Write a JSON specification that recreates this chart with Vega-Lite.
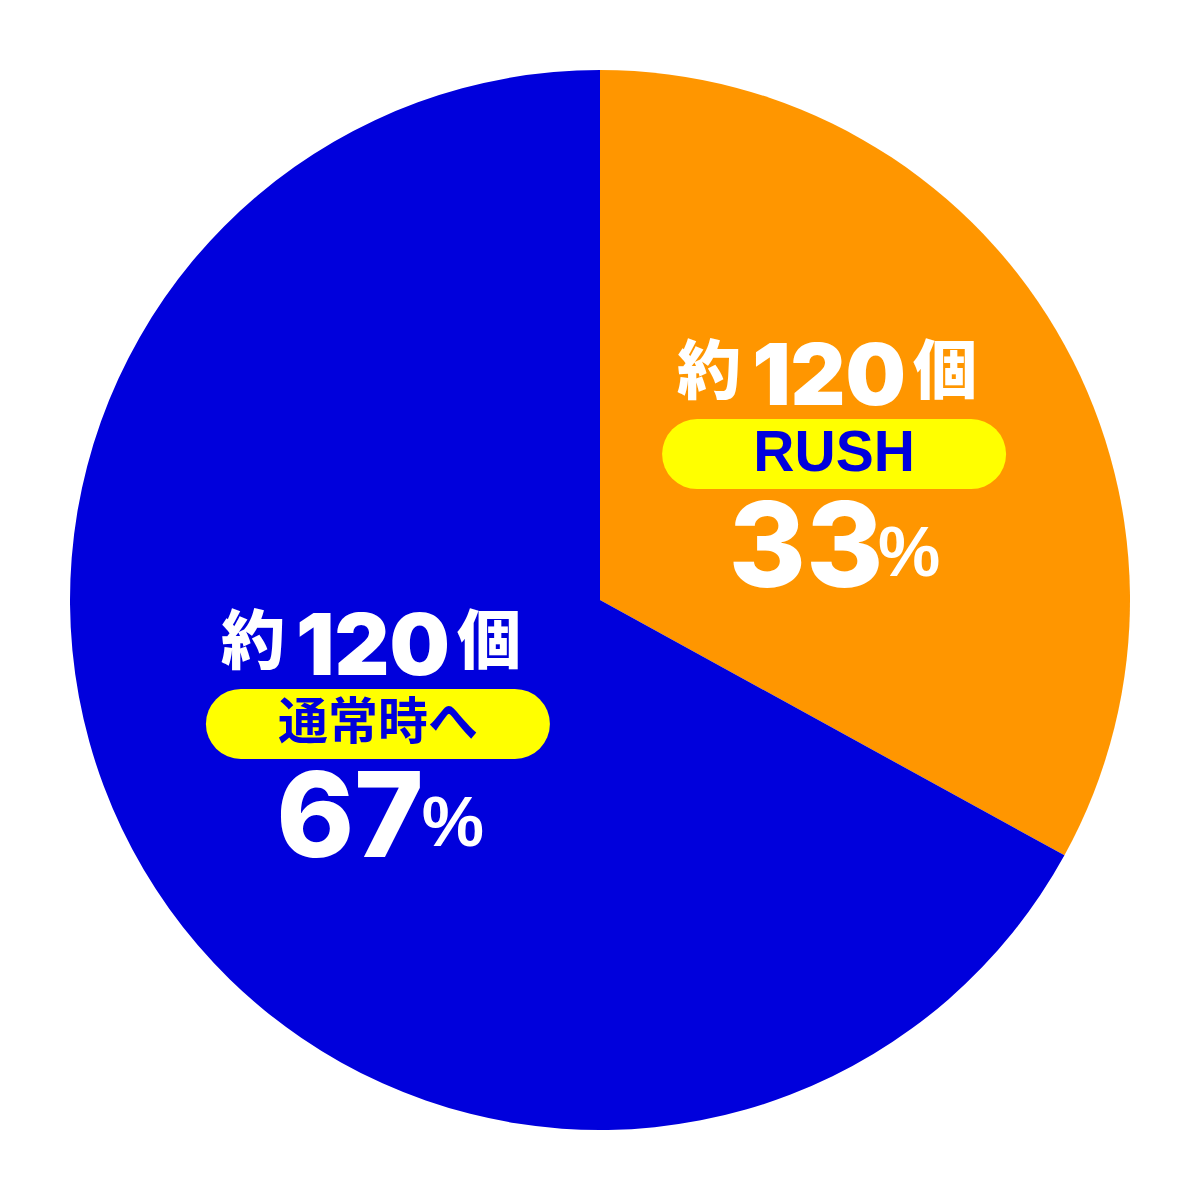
{
  "$schema": "https://vega.github.io/schema/vega-lite/v6.json",
  "autosize": {"type": "fit", "contains": "padding"},
  "width": 1200,
  "height": 1200,
  "padding": 0,
  "background": "#ffffff",
  "view": {"stroke": null},
  "data": {"values": [
    {"category": "RUSH", "value": 33, "count": "120"},
    {"category": "通常時へ", "value": 67, "count": "120"}
  ]},
  "transform": [
    {"joinaggregate": [{"op": "sum", "field": "value", "as": "total"}]},
    {"stack": "value", "groupby": [], "sort": [{"field": "category", "order": "ascending"}], "as": ["v0", "v1"]},
    {"calculate": "PI * (datum.v0 + datum.v1) / datum.total", "as": "mid"},
    {"calculate": "6 + 265 * sin(datum.mid)", "as": "cx"},
    {"calculate": "11 + 265 * cos(datum.mid)", "as": "cy"},
    {"calculate": "datum.cx - 137", "as": "px1"},
    {"calculate": "datum.cx + 137", "as": "px2"}
  ],
  "layer": [
    {
      "mark": {"type": "arc", "outerRadius": 530, "stroke": null},
      "encoding": {
        "theta": {"field": "value", "type": "quantitative", "stack": true},
        "order": {"field": "category", "sort": "ascending"},
        "color": {"field": "category", "type": "nominal", "legend": null,
          "scale": {"domain": ["RUSH", "通常時へ"], "range": ["#FF9600", "#0000DC"]}}
      }
    },
    {
      "mark": {"type": "rule", "strokeWidth": 70, "strokeCap": "round", "color": "#FFFF00"},
      "encoding": {
        "x": {"field": "px1", "type": "quantitative", "scale": {"domain": [-600, 600], "nice": false, "zero": false}, "axis": null},
        "x2": {"field": "px2"},
        "y": {"field": "cy", "type": "quantitative", "scale": {"domain": [-600, 600], "nice": false, "zero": false}, "axis": null}
      }
    },
    {
      "mark": {"type": "text", "text": "約", "font": "Noto Sans CJK JP", "fontWeight": 900, "fontSize": 64, "color": "#ffffff", "align": "center", "baseline": "middle", "dx": -125, "dy": -80},
      "encoding": {
        "x": {"field": "cx", "type": "quantitative", "scale": {"domain": [-600, 600], "nice": false, "zero": false}, "axis": null},
        "y": {"field": "cy", "type": "quantitative", "scale": {"domain": [-600, 600], "nice": false, "zero": false}, "axis": null}
      }
    },
    {
      "mark": {"type": "text", "font": "Inter", "fontWeight": 900, "fontSize": 85, "color": "#ffffff", "align": "center", "baseline": "alphabetic", "dx": -5, "dy": -49},
      "encoding": {
        "text": {"field": "count"},
        "x": {"field": "cx", "type": "quantitative", "scale": {"domain": [-600, 600], "nice": false, "zero": false}, "axis": null},
        "y": {"field": "cy", "type": "quantitative", "scale": {"domain": [-600, 600], "nice": false, "zero": false}, "axis": null}
      }
    },
    {
      "mark": {"type": "text", "text": "個", "font": "Noto Sans CJK JP", "fontWeight": 900, "fontSize": 64, "color": "#ffffff", "align": "center", "baseline": "middle", "dx": 111, "dy": -80},
      "encoding": {
        "x": {"field": "cx", "type": "quantitative", "scale": {"domain": [-600, 600], "nice": false, "zero": false}, "axis": null},
        "y": {"field": "cy", "type": "quantitative", "scale": {"domain": [-600, 600], "nice": false, "zero": false}, "axis": null}
      }
    },
    {
      "mark": {"type": "text", "font": "Liberation Sans, Noto Sans CJK JP", "fontWeight": "bold", "color": "#0000DC", "align": "center", "baseline": "middle", "dy": 0},
      "encoding": {
        "text": {"field": "category"},
        "size": {"field": "category", "type": "nominal", "legend": null, "scale": {"domain": ["RUSH", "通常時へ"], "range": [57, 50]}},
        "x": {"field": "cx", "type": "quantitative", "scale": {"domain": [-600, 600], "nice": false, "zero": false}, "axis": null},
        "y": {"field": "cy", "type": "quantitative", "scale": {"domain": [-600, 600], "nice": false, "zero": false}, "axis": null}
      }
    },
    {
      "mark": {"type": "text", "font": "Inter", "fontWeight": 800, "fontSize": 118, "color": "#ffffff", "align": "center", "baseline": "alphabetic", "dx": -28, "dy": 133},
      "encoding": {
        "text": {"field": "value", "type": "quantitative"},
        "x": {"field": "cx", "type": "quantitative", "scale": {"domain": [-600, 600], "nice": false, "zero": false}, "axis": null},
        "y": {"field": "cy", "type": "quantitative", "scale": {"domain": [-600, 600], "nice": false, "zero": false}, "axis": null}
      }
    },
    {
      "mark": {"type": "text", "text": "%", "font": "Liberation Sans", "fontWeight": "bold", "fontSize": 70, "color": "#ffffff", "align": "center", "baseline": "alphabetic", "dx": 75, "dy": 122},
      "encoding": {
        "x": {"field": "cx", "type": "quantitative", "scale": {"domain": [-600, 600], "nice": false, "zero": false}, "axis": null},
        "y": {"field": "cy", "type": "quantitative", "scale": {"domain": [-600, 600], "nice": false, "zero": false}, "axis": null}
      }
    }
  ]
}
